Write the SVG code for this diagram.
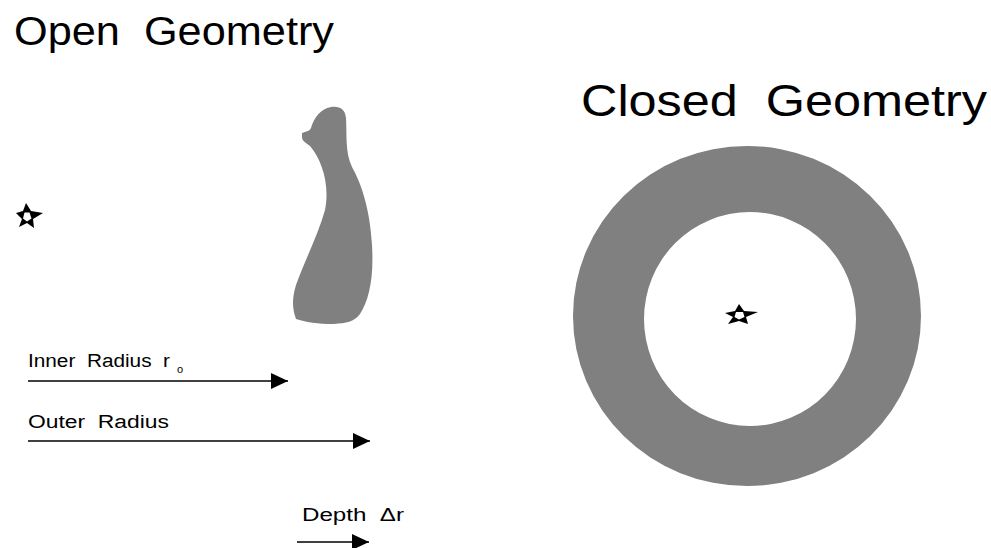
<svg xmlns="http://www.w3.org/2000/svg" width="991" height="548" viewBox="0 0 991 548">
<defs>
<style>
.t{font-family:"Liberation Sans","DejaVu Sans",Arial,sans-serif;fill:#000;white-space:pre}
.title{font-size:40px}
.lbl{font-size:18px}
.shape{fill:#808080}
.ln{stroke:#000;stroke-width:1.4;fill:none}
</style>
<marker id="ah" markerUnits="userSpaceOnUse" markerWidth="18" markerHeight="17" refX="17" refY="8" orient="auto">
<path d="M0,0 L17,8 L0,16 Z" fill="#000"/>
</marker>
</defs>
<rect width="991" height="548" fill="#fff"/>
<g id="title-open"><text class="t title" x="14" y="45" textLength="320" lengthAdjust="spacingAndGlyphs" xml:space="preserve">Open  Geometry</text></g>
<g id="title-closed"><text class="t title" x="581" y="116" textLength="406" lengthAdjust="spacingAndGlyphs" style="font-size:44px" xml:space="preserve">Closed  Geometry</text></g>
<g id="open-shape">
<path class="shape" d="M302,133 C306,131 309,132 311,128 C314,118 320,109 331,107 C340,106 345,109 346,118 C347,135 345,152 352,167 C362,185 370,210 372,245 C374,278 369,300 360,314 C354,322 346,323 334,324 C318,324 305,322 296,319 C292,308 292,298 296,285 C305,260 318,235 325,210 C330,185 322,160 310,146 C305,142 302,141 302,137 Z"/>
</g>
<g id="star-open">
<polygon points="26,203 31,211 43,213 33,219 34,228 27,223 19,227 22,219 16,213 23,211" fill="#000"/>
<polygon points="29.5,212.5 31.5,218.5 27,221.5 23,218.5 24.5,212.5" fill="#fff"/>
</g>
<g id="annulus">
<path class="shape" fill-rule="evenodd" d="M573,316 A174,170 0 1,0 921,316 A174,170 0 1,0 573,316 Z M644,319 A106,107 0 1,1 856,319 A106,107 0 1,1 644,319 Z"/>
</g>
<g id="star-closed">
<polygon points="739,304 744,311 758,312 746,317 748,324 739,321 728,324 733,317 725,313 735,311" fill="#000"/>
<polygon points="743,312 744.5,317 739,319.5 734.5,317 736,312" fill="#fff"/>
</g>
<g id="label-inner"><text class="t lbl" x="28" y="367" xml:space="preserve"><tspan textLength="142" lengthAdjust="spacingAndGlyphs">Inner  Radius  r</tspan><tspan x="177" y="373" fill="#000" style="font-size:11px">o</tspan></text></g>
<g id="label-outer"><text class="t lbl" x="28" y="428" textLength="141" lengthAdjust="spacingAndGlyphs" xml:space="preserve">Outer  Radius</text></g>
<g id="label-depth"><text class="t lbl" x="302" y="521" textLength="102" lengthAdjust="spacingAndGlyphs" xml:space="preserve">Depth  Δr</text></g>
<g id="connectors">
<line class="ln" x1="28" y1="381" x2="288" y2="381" marker-end="url(#ah)"/>
<line class="ln" x1="28" y1="441" x2="370" y2="441" marker-end="url(#ah)"/>
<line class="ln" x1="297" y1="542" x2="369" y2="542" marker-end="url(#ah)"/>
</g>
</svg>
